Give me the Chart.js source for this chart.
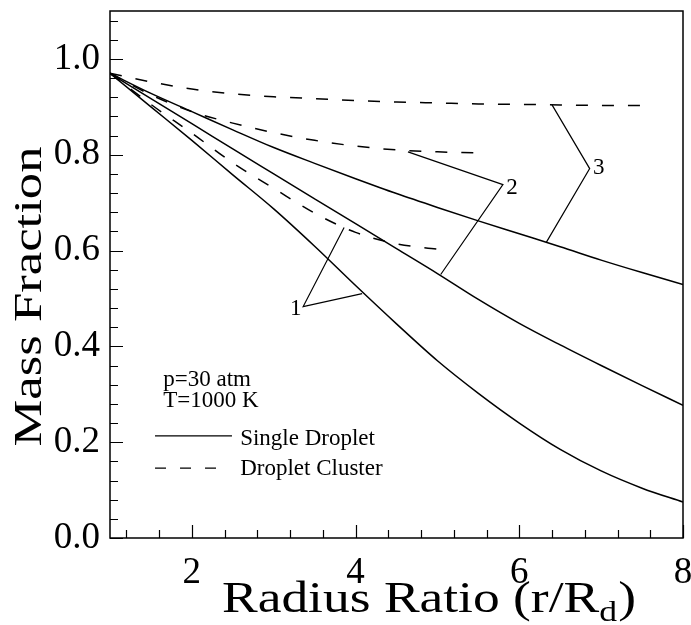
<!DOCTYPE html>
<html><head><meta charset="utf-8">
<script src="https://cdn.jsdelivr.net/npm/chart.js@4.4.1/dist/chart.umd.min.js"></script>
<style>html,body{margin:0;padding:0;background:#fff;}#wrap{width:691px;height:625px;}</style>
</head><body><div id="wrap"><canvas id="c" width="691" height="625"></canvas></div>
<script>
// ---- data ----
const radiusRatio = [1,1.5,2,2.5,3,3.5,4,4.5,5,5.5,6,6.5,7,7.5,8];
const single1 = [0.97,0.90,0.83,0.758,0.687,0.609,0.527,0.447,0.37,0.302,0.24,0.185,0.14,0.104,0.075];
const single2 = [0.97,0.917,0.865,0.812,0.76,0.708,0.656,0.604,0.552,0.498,0.448,0.403,0.36,0.318,0.277];
const single3 = [0.97,0.928,0.89,0.852,0.815,0.782,0.75,0.719,0.69,0.662,0.635,0.608,0.58,0.554,0.529];
const clusterX1 = [1,1.5,2,2.5,3,3.5,4,4.5,5];
const cluster1 = [0.97,0.905,0.845,0.783,0.73,0.678,0.638,0.614,0.603];
const clusterX2 = [1,1.5,2,2.5,3,3.5,4,4.5,5,5.45];
const cluster2 = [0.97,0.925,0.89,0.866,0.846,0.83,0.818,0.81,0.806,0.804];
const clusterX3 = [1,1.5,2,2.5,3,3.5,4,4.5,5,5.5,6,6.5,7,7.5];
const cluster3 = [0.97,0.952,0.937,0.927,0.921,0.917,0.913,0.91,0.908,0.906,0.905,0.904,0.903,0.903];
const xTickLabels = [2,4,6,8];
const yTickLabels = [0.0,0.2,0.4,0.6,0.8,1.0];
// annotation leader lines (data units)
const leader1X = [3.86,3.36,4.08], leader1Y = [0.648,0.483,0.51];
const leader2X = [4.64,5.80,5.04], leader2Y = [0.806,0.7375,0.55];
const leader3X = [6.40,6.86,6.33], leader3Y = [0.904,0.771,0.617];
const curveLabels = ['1','2','3'];
const conditionText = ['p=30 atm','T=1000 K'];
const legendLabels = ['Single Droplet','Droplet Cluster'];
const xTitle = ['Radius Ratio (r/R','d',')'];
const yTitle = 'Mass Fraction';

const pts = (xs, ys) => xs.map((x,i)=>({x:x,y:ys[i]}));
const SERIF = '"Liberation Serif","Times New Roman",serif';
const solid = (d)=>({data:d,borderColor:'#000',borderWidth:1.5,pointRadius:0,cubicInterpolationMode:'monotone',fill:false});
const dashed = (d)=>({data:d,borderColor:'#000',borderWidth:1.5,pointRadius:0,cubicInterpolationMode:'monotone',fill:false,borderDash:[12,14]});
const leader = (d)=>({data:d,borderColor:'#000',borderWidth:1.2,pointRadius:0,tension:0,fill:false});

const decor = {
  id:'decor',
  afterDraw(chart){
    const c = chart.ctx, xs = chart.scales.x, ys = chart.scales.y, a = chart.chartArea;
    const X = v=>xs.getPixelForValue(v), Y = v=>ys.getPixelForValue(v);
    c.save();
    c.strokeStyle='#000'; c.fillStyle='#000';
    // frame
    c.lineWidth=1.5;
    c.strokeRect(a.left, a.top, a.right-a.left, a.bottom-a.top);
    // ticks (inward)
    c.lineWidth=1.2;
    c.beginPath();
    for(let k=0;k<=27;k++){ const v=k*0.04; const p=Math.round(Y(v))+0.5;
      const major = (k%5===0); c.moveTo(a.left,p); c.lineTo(a.left+(major?13:8),p); }
    for(let k=3;k<=20;k++){ const v=k*0.4; const p=Math.round(X(v))+0.5;
      const major = (k%5===0); c.moveTo(p,a.bottom); c.lineTo(p,a.bottom-(major?13:8)); }
    c.stroke();
    // curve labels
    c.font='23px '+SERIF; c.textBaseline='middle';
    c.textAlign='right'; c.fillText(curveLabels[0], X(3.34), Y(0.478));
    c.textAlign='left'; c.fillText(curveLabels[1], X(5.84), Y(0.73));
    c.fillText(curveLabels[2], X(6.9), Y(0.772));
    // conditions
    c.textBaseline='alphabetic'; c.textAlign='left';
    c.fillText(conditionText[0], X(1.65), Y(0.317));
    c.fillText(conditionText[1], X(1.65), Y(0.273));
    // legend
    c.lineWidth=1.3;
    c.beginPath(); c.moveTo(X(1.55),Y(0.213)); c.lineTo(X(2.49),Y(0.213)); c.stroke();
    c.setLineDash([11,14]);
    c.beginPath(); c.moveTo(X(1.55),Y(0.146)); c.lineTo(X(2.34),Y(0.146)); c.stroke();
    c.setLineDash([]);
    c.fillText(legendLabels[0], X(2.59), Y(0.194));
    c.fillText(legendLabels[1], X(2.59), Y(0.131));
    // y title
    c.save();
    c.font='40px '+SERIF;
    c.translate(41, (a.top+a.bottom)/2+22);
    c.rotate(-Math.PI/2);
    const wy = c.measureText(yTitle).width;
    c.scale(300/wy,1);
    c.textAlign='center'; c.textBaseline='alphabetic';
    c.fillText(yTitle,0,0);
    c.restore();
    // x title
    c.save();
    const fMain='45px '+SERIF, fSub='30px '+SERIF;
    c.font=fMain; const w1=c.measureText(xTitle[0]).width, w3=c.measureText(xTitle[2]).width;
    c.font=fSub; const w2=c.measureText(xTitle[1]).width;
    const tot=w1+w2+w3+1, target=414, sx=target/tot;
    c.translate(222, 612); c.scale(sx,1);
    c.textAlign='left'; c.textBaseline='alphabetic';
    c.font=fMain; c.fillText(xTitle[0],0,0);
    c.font=fSub; c.fillText(xTitle[1],w1,9);
    c.font=fMain; c.fillText(xTitle[2],w1+w2+1,0);
    c.restore();
    c.restore();
  }
};

new Chart(document.getElementById('c'), {
  type:'line',
  data:{datasets:[
    solid(pts(radiusRatio,single1)), solid(pts(radiusRatio,single2)), solid(pts(radiusRatio,single3)),
    dashed(pts(clusterX1,cluster1)), dashed(pts(clusterX2,cluster2)), dashed(pts(clusterX3,cluster3)),
    leader(pts(leader1X,leader1Y)), leader(pts(leader2X,leader2Y)), leader(pts(leader3X,leader3Y))
  ]},
  options:{
    responsive:false, animation:false, devicePixelRatio:1,
    layout:{padding:{left:0,right:8,top:11,bottom:0}},
    plugins:{legend:{display:false}, tooltip:{enabled:false}},
    scales:{
      x:{type:'linear', min:1, max:8, grid:{display:false, drawTicks:false}, border:{display:false},
        afterBuildTicks:s=>{s.ticks=xTickLabels.map(v=>({value:v}));},
        afterFit:s=>{s.height=87; s.paddingLeft=0; s.paddingRight=0;},
        ticks:{font:{family:SERIF,size:37}, color:'#000', padding:13, maxRotation:0, autoSkip:false, callback:v=>String(v)}},
      y:{type:'linear', min:0, max:1.1, grid:{display:false, drawTicks:false}, border:{display:false},
        afterBuildTicks:s=>{s.ticks=yTickLabels.map(v=>({value:v}));},
        afterFit:s=>{s.width=110; s.paddingTop=0; s.paddingBottom=0;},
        ticks:{font:{family:SERIF,size:37}, color:'#000', padding:10, autoSkip:false, callback:v=>Number(v).toFixed(1)}}
    }
  },
  plugins:[decor]
});
</script></body></html>
